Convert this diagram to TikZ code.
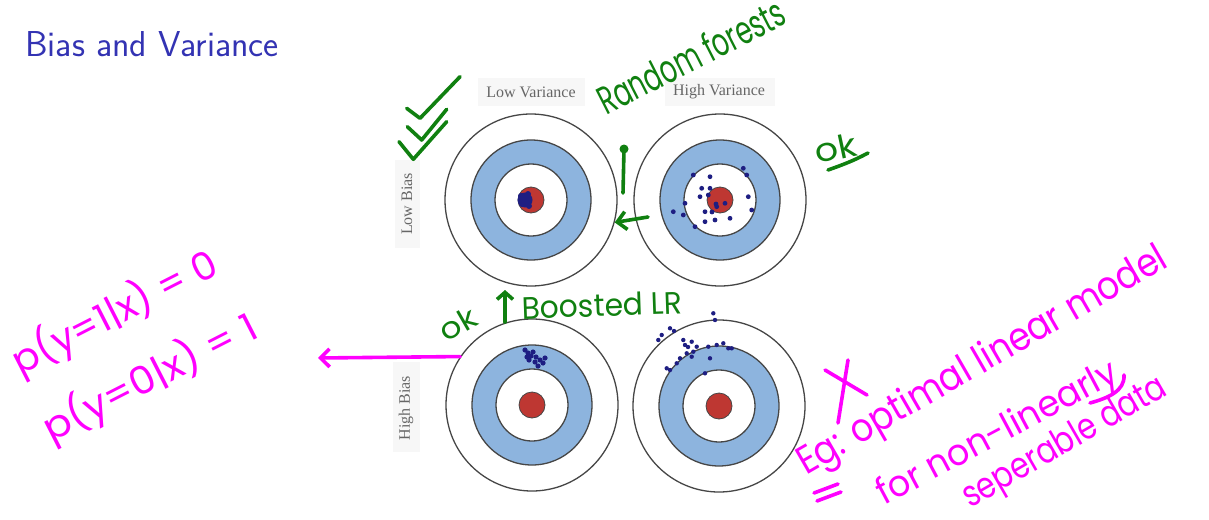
\documentclass[tikz,border=0pt]{standalone}
\usepackage{fontspec}
\usepackage{graphicx}
\newfontfamily\hwfont{Poppins}
\newfontfamily\figfont{Liberation Serif}
\usetikzlibrary{arrows.meta}
\definecolor{titleblue}{RGB}{51,51,179}
\definecolor{ringblue}{RGB}{141,180,222}
\definecolor{ringgray}{RGB}{70,70,70}
\definecolor{bullred}{RGB}{190,55,50}
\definecolor{dotblue}{RGB}{30,30,130}
\definecolor{pengreen}{RGB}{16,128,16}
\definecolor{penmag}{RGB}{255,0,255}
\newcommand\hw[3]{\resizebox{#1pt}{#2pt}{\hwfont #3}}
\tikzset{
  pen/.style={line width=3.6pt, line cap=round, line join=round},
  greenpen/.style={pen, draw=pengreen},
  magpen/.style={pen, draw=penmag},
  hwgreen/.style={text=pengreen, inner sep=0pt},
  hwmag/.style={text=penmag, inner sep=0pt},
  outerring/.style={circle, draw=ringgray, line width=1.3pt, minimum size=172pt, inner sep=0pt, fill=white},
  figlabel/.style={text=black!60, inner sep=1pt, font=\figfont\fontsize{16}{16}\selectfont},
  barb/.style={-{Straight Barb[length=9pt,width=18pt]}},
}
\begin{document}
\begin{tikzpicture}[x=1pt,y=-1pt]
\useasboundingbox (0,0) rectangle (1209,519);
\fill[white] (0,0) rectangle (1209,519);
% title
\node[anchor=base west, inner sep=0pt, text=titleblue, font=\sffamily\fontsize{36}{36}\selectfont] (title) at (25,56.7) {Bias and Variance};
% faint figure panels
\fill[black!3] (478,78) rectangle (585,106);
\fill[black!3] (665,78) rectangle (775,106);
\fill[black!3] (395,160) rectangle (420,248);
\fill[black!3] (393,362) rectangle (420,452);
% labels
\node[figlabel] (lv) at (531,92) {Low Variance};
\node[figlabel] (hv) at (719,92) {High Variance};
\node[figlabel, rotate=90] (lb) at (407,204) {Low Bias};
\node[figlabel, rotate=90] (hb) at (406,408) {High Bias};
% targets
\foreach \n/\x/\y in {tl/531/200,tr/720/200,bl/532/405,br/719/406}{
  \node[outerring] (\n) at (\x,\y) {};
  \draw[fill=ringblue, draw=ringgray, line width=1.3pt] (\x,\y) circle (60);
  \draw[fill=white, draw=ringgray, line width=1.3pt] (\x,\y) circle (36);
  \draw[fill=bullred, draw=ringgray, line width=0.8pt] (\x,\y) circle (13);
}
% shots: low bias low variance
\fill[dotblue] (525,200) circle (7.5);
\foreach \p in {(521,196),(522,204),(528,194),(529,206)} \fill[dotblue] \p circle (3);
% low bias high variance
\foreach \p in {(743.3,168.3),(693.3,175),(710,176.7),(701.7,188.3),(710,188.3),(700,196.7),(708.3,195),(746.7,175),(748.3,196.7),(751.7,210),(673.3,211.7),(685,203.3),(683.3,215),(705,211.7),(705,221.7),(715,220),(730,218.3),(716.7,206.7),(725,203.3),(695,226.7),(716,204),(712,212)}
  \fill[dotblue] \p circle (2.4);
% high bias low variance
\foreach \p in {(525,350),(528,353),(533,352),(531,356),(536,357),(540,360),(527,357),(535,362),(543,363),(538,366),(529,360),(545,358)}
  \fill[dotblue] \p circle (2.6);
% high bias high variance
\foreach \p in {(713.3,313.3),(670,328.3),(661.7,335),(658.3,340),(683.3,340),(691.7,341.7),(696.7,346.7),(708.3,346.7),(716.7,345),(723.3,343.3),(728.3,348.3),(731.7,348.3),(686.7,353.3),(691.7,356.7),(680,358.3),(676.7,363.3),(666.7,368.3),(670,370),(710,358.3),(705,373.3),(693.3,351.7),(685,345),(715,320),(674,331),(688,347)}
  \fill[dotblue] \p circle (2.2);
% green annotations
\draw[greenpen] (406.7,108.3) -- (420,118.3) -- (460,76.7);
\draw[greenpen] (407.3,126.7) -- (421.7,140) -- (446.7,109.3);
\draw[greenpen] (399,141.7) -- (413.3,159.3) -- (446.7,121.7);
\node[hwgreen, rotate=27, anchor=base west] (rf) at (606,116) {\hw{205}{30}{Random forests}};
\coordinate (rfb) at (623,193);
\coordinate (rft) at (624,149);
\draw[greenpen] (rfb) -- (rft);
\fill[pengreen] (rft) circle (4.5);
\coordinate (gstart) at (648,217);
\draw[greenpen, barb] (gstart) -- (tl.-15);
\node[hwgreen, rotate=12] (ok1) at (836,148) {\hw{42}{24}{ok}};
\draw[greenpen] (828,170) .. controls (845,164) and (855,160) .. (868,153);
\node[hwgreen, rotate=30] (ok2) at (458,324) {\hw{38}{22}{ok}};
\coordinate (ua) at (505,322);
\coordinate (ub) at (505,290);
\draw[greenpen, -{Straight Barb[length=7pt,width=16pt]}] (ua) -- (ub);
\node[hwgreen, rotate=2] (blr) at (602,305) {\hw{160}{23}{Boosted LR}};
% magenta annotations
\node[hwmag, rotate=27] (p1) at (115,313) {\hw{225}{36}{p(y=1|x) = 0}};
\node[hwmag, rotate=27] (p0) at (150,378) {\hw{235}{36}{p(y=0|x) = 1}};
\coordinate (parrow) at (318,358);
\draw[magpen, barb] (bl.146) -- (parrow);
\draw[magpen] (825,370) -- (867,395);
\draw[magpen] (848,360) -- (838,423);
\node[hwmag, rotate=30, anchor=base west] (eg) at (806,476) {\hw{420}{30}{Eg: optimal linear model}};
\node[hwmag, rotate=28, anchor=base west] (nl) at (884,506) {\hw{268}{28}{for non-linearly}};
\draw[magpen] (1090,403) .. controls (1108,398) and (1125,391) .. (1124,375);
\node[hwmag, rotate=30, anchor=base west] (sd) at (970,509) {\hw{230}{27}{seperable data}};
\draw[magpen] (814,493) -- (838,484);
\draw[magpen] (817,501) -- (841,492);
\end{tikzpicture}
\end{document}
